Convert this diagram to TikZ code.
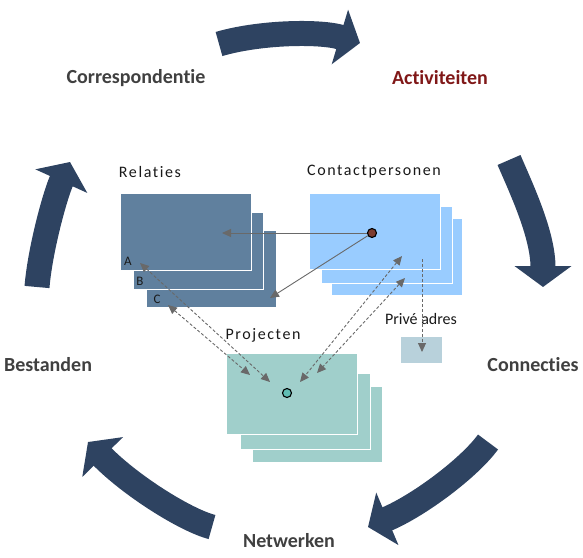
\documentclass[tikz,border=0pt]{standalone}
\usepackage{fontspec}
\setmainfont{Carlito}
\newfontfamily\spacedfont[LetterSpace=10]{Carlito}
\newcommand{\nti}{t\kern0pt i}
\newcommand{\sti}{t\kern1.6pt i}
\usetikzlibrary{arrows.meta}
\definecolor{navy}{RGB}{46,67,97}
\definecolor{labelgray}{RGB}{64,64,64}
\definecolor{actred}{RGB}{128,24,24}
\definecolor{relfill}{RGB}{96,128,158}
\definecolor{cpfill}{RGB}{153,204,255}
\definecolor{prfill}{RGB}{160,207,203}
\definecolor{pafill}{RGB}{184,209,219}
\definecolor{congray}{RGB}{105,105,105}
\definecolor{dotbrown}{RGB}{125,60,48}
\definecolor{dotteal}{RGB}{96,190,180}
\begin{document}
\begin{tikzpicture}[x=1pt,y=-1pt,
  bigarrow/.style={draw=navy, line width=25pt, -{Triangle[length=21pt,width=56pt]}},
  cyclelabel/.style={font=\bfseries\fontsize{20}{24}\selectfont, text=labelgray, inner sep=0},
  boxlabel/.style={font=\spacedfont\fontsize{16}{19}\selectfont, text=black!90, inner sep=0},
  letterlabel/.style={font=\fontsize{13}{15}\selectfont, text=black!90, inner sep=0},
  card/.style={anchor=north west, inner sep=0, draw=white, line width=1pt},
  dot/.style={circle, draw=black, line width=1.1pt, minimum size=9pt, inner sep=0},
  solidcon/.style={draw=congray, line width=0.9pt, -{Triangle[length=9pt,width=8pt]}},
  dashcon/.style={draw=congray, line width=0.9pt, dash pattern=on 3pt off 2pt, {Triangle[length=9pt,width=8pt]}-{Triangle[length=9pt,width=8pt]}},
  dashone/.style={draw=congray, line width=0.9pt, dash pattern=on 3pt off 2pt, -{Triangle[length=9pt,width=8pt]}}
]
\useasboundingbox (0,0) rectangle (583,557);

% cycle arrows
\draw[bigarrow] (219,44) .. controls (260,32) and (320,31) .. (360,43);
\draw[bigarrow] (509,160) .. controls (522,190) and (543,235) .. (543,287);
\draw[bigarrow] (488,442) .. controls (470,467) and (420,505) .. (368,527);
\draw[bigarrow] (212,527) .. controls (185,520) and (130,485) .. (88,442);
\draw[bigarrow] (37,287) .. controls (40,250) and (55,195) .. (70,162);

% cycle labels
\node[cyclelabel] (corr) at (136,78) {Corresponden\nti{}e};
\node[cyclelabel, text=actred] (act) at (440,78) {Ac\nti{}viteiten};
\node[cyclelabel] (conn) at (533,365) {Connec\nti{}es};
\node[cyclelabel] (netw) at (289,541) {Netwerken};
\node[cyclelabel] (best) at (48,365) {Bestanden};

% Relaties
\node[boxlabel] (rellab) at (150,172) {Rela\sti{}es};
\node[card, fill=relfill, minimum width=130pt, minimum height=77pt] (rel3) at (146,230) {};
\node[card, fill=relfill, minimum width=130pt, minimum height=77pt] (rel2) at (133,212) {};
\node[card, fill=relfill, minimum width=131pt, minimum height=77pt] (rel1) at (120,193) {};
\node[letterlabel] (la) at (128,261) {A};
\node[letterlabel] (lb) at (140,281) {B};
\node[letterlabel] (lc) at (157,299) {C};

% Contactpersonen
\node[boxlabel] (cplab) at (374,172) {Contactpersonen};
\node[card, fill=cpfill, minimum width=131pt, minimum height=77pt] (cp3) at (331,218) {};
\node[card, fill=cpfill, minimum width=131pt, minimum height=77pt] (cp2) at (321,206) {};
\node[card, fill=cpfill, minimum width=131pt, minimum height=76pt] (cp1) at (309,193) {};
\node[dot, fill=dotbrown] (cpdot) at (372,233) {};

% Projecten
\node[boxlabel] (prlab) at (263,335) {Projecten};
\node[card, fill=prfill, minimum width=130pt, minimum height=76pt] (pr3) at (252,386) {};
\node[card, fill=prfill, minimum width=130pt, minimum height=76pt] (pr2) at (240,373) {};
\node[card, fill=prfill, minimum width=131pt, minimum height=81pt] (pr1) at (226,353) {};
\node[dot, fill=dotteal] (prdot) at (287,393) {};

% Prive adres
\node[font=\fontsize{16}{19}\selectfont, text=black!90, inner sep=0] (palab) at (421,319) {Privé adres};
\node[card, fill=pafill, minimum width=42pt, minimum height=27pt] (pa) at (400,336) {};

% connector end points
\coordinate (relin) at (222,233);
\coordinate (relc) at (270,298);
\coordinate (a1) at (140,263);
\coordinate (a2) at (270,382);
\coordinate (c1) at (168,305);
\coordinate (c2) at (250,375);
\coordinate (k1) at (402,256);
\coordinate (k2) at (300,382);
\coordinate (k3) at (405,278);
\coordinate (k4) at (317,373);
\coordinate (p1) at (422,259);
\coordinate (p2) at (422,352);

\draw[solidcon] (cpdot) -- (relin);
\draw[solidcon] (cpdot) -- (relc);
\draw[dashcon] (a1) -- (a2);
\draw[dashcon] (c1) -- (c2);
\draw[dashcon] (k1) -- (k2);
\draw[dashcon] (k3) -- (k4);
\draw[dashone] (p1) -- (p2);
\end{tikzpicture}
\end{document}
